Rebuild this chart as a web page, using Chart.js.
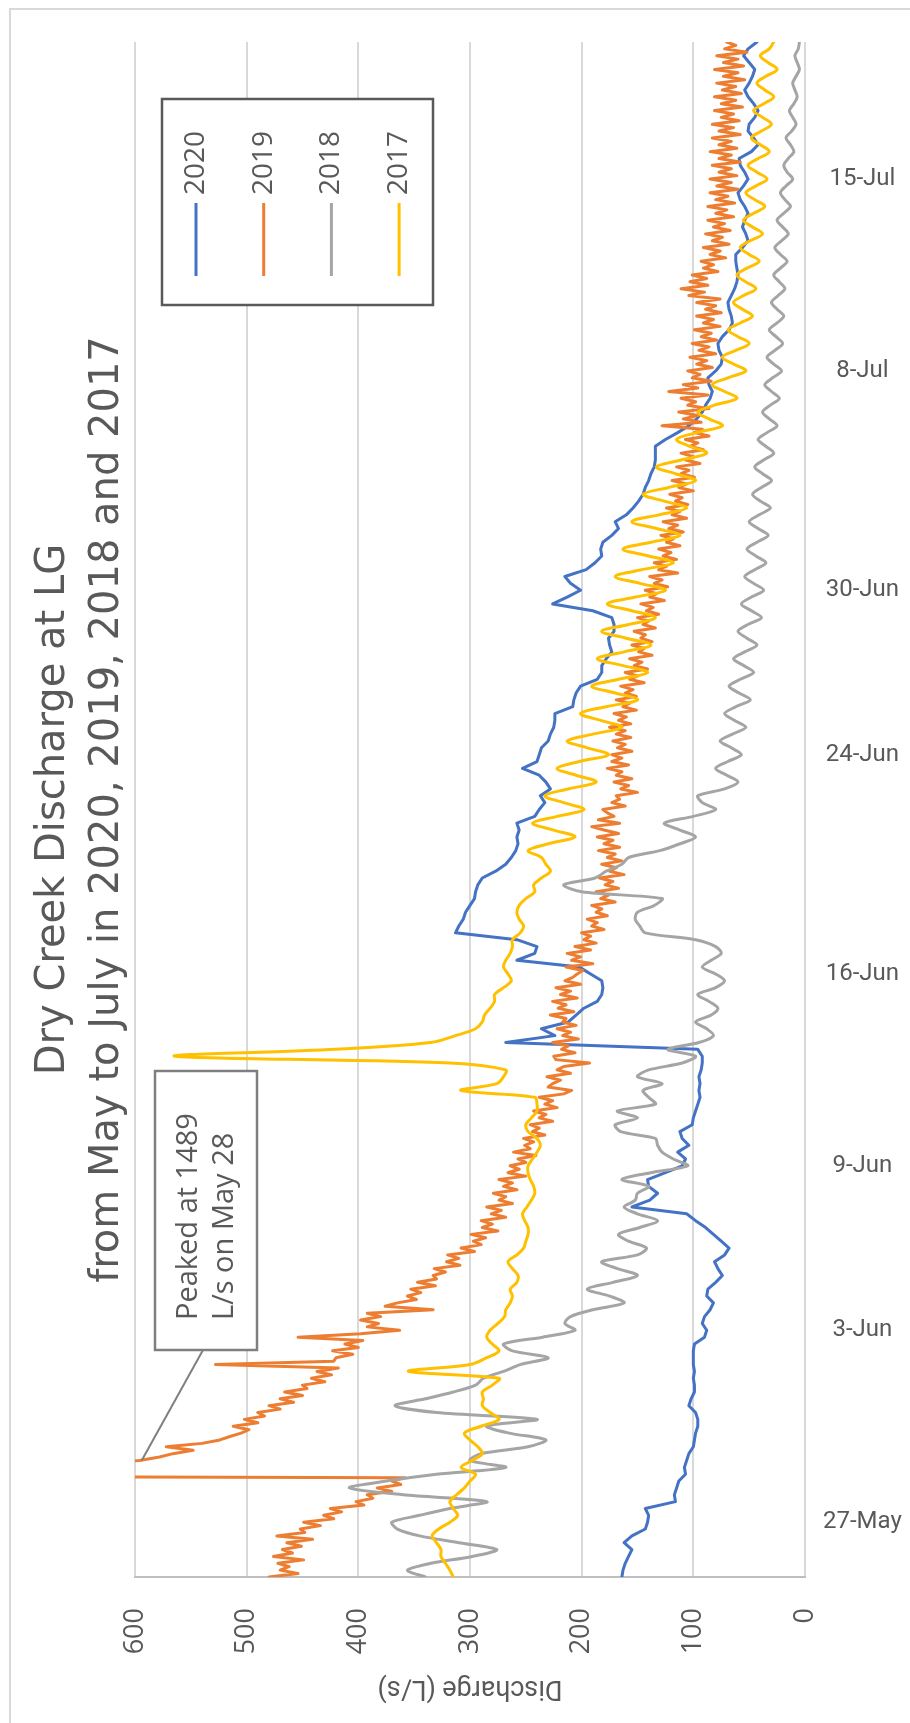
<!DOCTYPE html>
<html>
<head>
<meta charset="utf-8">
<script src="https://cdn.jsdelivr.net/npm/chart.js@4.4.1/dist/chart.umd.min.js"></script>
<style>
  html, body { margin: 0; padding: 0; background: #ffffff; }
  canvas { display: block; }
</style>
</head>
<body>
<canvas id="discharge" width="910" height="1723"></canvas>
<script>
// ---- Chart text ----
const titleLines = ['Dry Creek Discharge at LG', 'from May to July in 2020, 2019, 2018 and 2017'];
const axisTitle = 'Discharge (L/s)';
const peakNote = ['Peaked at 1489', 'L/s on May 28'];

// ---- Series ----
const seriesNames = ['2020', '2019', '2018', '2017'];
const seriesColors = ['#4472C4', '#ED7D31', '#A5A5A5', '#FFC000'];

// Reading interval in days for each series; day 0 = 25 May, day 56 = 20 July
const seriesStep = [0.25, 0.125, 0.25, 0.25];

// Date axis ticks (days since 25 May) and their labels
const tickDays = [2, 9, 15, 22, 30, 36, 44, 51];
const tickLabels = ['27-May', '3-Jun', '9-Jun', '16-Jun', '24-Jun', '30-Jun', '8-Jul', '15-Jul'];

// Discharge, L/s — 6-hourly
const flow2020 = [
  164, 163, 161, 158, 155, 162, 155, 143,
  141, 140, 143, 116, 117, 115, 113, 107,
  108, 106, 104, 100, 99, 98, 96, 96,
  98, 104, 102, 99, 99, 100, 99, 100,
  100, 100, 99, 90, 88, 92, 90, 85,
  82, 88, 87, 80, 74, 78, 81, 72,
  68, 75, 82, 89, 98, 106, 155, 139,
  132, 140, 141, 125, 110, 107, 114, 104,
  110, 112, 101, 100, 98, 96, 94, 95,
  94, 95, 93, 92, 92, 96, 268, 224,
  236, 212, 205, 198, 186, 182, 181, 182,
  192, 202, 258, 242, 240, 258, 313, 310,
  306, 304, 300, 296, 295, 293, 289, 277,
  268, 263, 259, 257, 258, 256, 258, 242,
  238, 233, 237, 228, 232, 238, 253, 240,
  238, 236, 230, 228, 225, 224, 224, 208,
  207, 205, 201, 186, 182, 182, 178, 173,
  175, 176, 171, 171, 173, 190, 226, 213,
  201, 210, 215, 196, 188, 182, 183, 181,
  173, 167, 170, 160, 154, 149, 145, 143,
  140, 138, 135, 134, 134, 134, 125, 114,
  104, 97, 92, 89, 85, 83, 86, 87,
  80, 75, 74, 77, 78, 74, 68, 65,
  66, 68, 69, 66, 63, 61, 60, 61,
  62, 62, 56, 51, 53, 56, 54, 51,
  54, 58, 60, 55, 51, 54, 58, 59,
  48, 42, 46, 51, 50, 45, 42, 46,
  51, 54, 50, 47, 45, 50, 55, 51,
  43
];

// Discharge, L/s — 3-hourly (one row per day)
const flow2019 = [
  480, 454, 470, 462, 472, 449, 476, 459,
  468, 451, 464, 441, 473, 448, 452, 434,
  449, 422, 431, 415, 425, 395, 402, 387,
  392, 370, 383, 362, 370, 358, 1489, 900,
  700, 640, 596, 578, 566, 548, 572, 540,
  524, 515, 505, 498, 512, 490, 502, 484,
  490, 470, 480, 458, 470, 450, 466, 446,
  450, 430, 442, 424, 437, 418, 528, 422,
  420, 405, 423, 400, 412, 396, 454, 398,
  363, 392, 382, 398, 380, 392, 333, 376,
  365, 348, 356, 344, 353, 331, 347, 330,
  333, 322, 332, 309, 321, 310, 320, 296,
  308, 290, 297, 286, 299, 275, 289, 280,
  290, 268, 281, 272, 285, 262, 274, 268,
  279, 258, 270, 262, 274, 250, 266, 256,
  264, 250, 257, 241, 261, 246, 251, 243,
  252, 233, 244, 238, 246, 226, 238, 232,
  243, 222, 233, 226, 238, 216, 209, 230,
  226, 219, 231, 210, 222, 216, 193, 223,
  225, 206, 218, 212, 226, 203, 217, 210,
  222, 205, 217, 214, 228, 207, 221, 214,
  226, 204, 219, 210, 223, 201, 215, 208,
  204, 199, 214, 190, 209, 201, 213, 192,
  206, 187, 198, 192, 200, 180, 191, 186,
  195, 177, 187, 182, 191, 170, 183, 176,
  187, 167, 179, 172, 184, 162, 175, 169,
  182, 164, 177, 170, 185, 166, 180, 172,
  186, 167, 180, 191, 166, 185, 171, 177,
  181, 161, 173, 166, 169, 150, 165, 158,
  171, 155, 169, 164, 177, 158, 173, 164,
  173, 155, 168, 161, 172, 156, 169, 161,
  175, 156, 167, 160, 171, 151, 163, 157,
  169, 151, 161, 154, 165, 144, 157, 150,
  161, 141, 153, 146, 157, 137, 149, 144,
  155, 137, 147, 143, 153, 134, 145, 140,
  150, 131, 142, 136, 147, 126, 139, 133,
  143, 123, 135, 128, 139, 114, 131, 124,
  135, 115, 127, 120, 131, 112, 124, 118,
  129, 109, 122, 114, 127, 106, 119, 112,
  124, 105, 116, 110, 121, 100, 113, 106,
  119, 99, 111, 104, 115, 94, 107, 100,
  111, 91, 103, 96, 107, 86, 99, 92,
  128, 93, 109, 96, 113, 86, 105, 98,
  111, 87, 122, 96, 109, 84, 101, 94,
  105, 83, 97, 88, 103, 80, 95, 86,
  101, 79, 93, 84, 99, 76, 91, 82,
  97, 75, 89, 80, 97, 76, 104, 90,
  111, 87, 103, 88, 101, 78, 91, 82,
  93, 71, 85, 76, 91, 68, 83, 74,
  89, 67, 82, 72, 87, 64, 80, 70,
  87, 63, 80, 69, 85, 60, 79, 66,
  85, 61, 77, 66, 83, 58, 77, 66,
  85, 61, 77, 66, 83, 58, 77, 64,
  83, 59, 75, 64, 81, 56, 75, 62,
  81, 57, 74, 62, 79, 54, 73, 60,
  81, 55, 73, 60, 79, 52, 72, 62,
  70
];

// Discharge, L/s — 6-hourly
const flow2018 = [
  340, 356, 335, 298, 276, 310, 345, 365,
  370, 345, 318, 285, 360, 408, 375, 330,
  268, 300, 290, 248, 232, 265, 285, 240,
  330, 367, 340, 315, 295, 288, 270, 255,
  230, 262, 270, 235, 206, 215, 210, 190,
  162, 175, 195, 172, 150, 168, 182, 150,
  142, 158, 167, 148, 132, 150, 162, 152,
  150, 140, 164, 138, 105, 118, 128, 132,
  134, 165, 170, 150, 168, 134, 140, 145,
  128, 150, 140, 110, 98, 123, 95, 82,
  88, 98, 84, 78, 86, 96, 80, 72,
  80, 92, 84, 75, 80, 98, 143, 148,
  152, 150, 135, 128, 200, 216, 188, 178,
  164, 158, 130, 112, 98, 112, 126, 100,
  80, 92, 96, 72, 60, 70, 80, 69,
  57, 66, 76, 65, 53, 63, 72, 62,
  49, 59, 68, 58, 46, 55, 64, 54,
  43, 52, 60, 51, 39, 48, 57, 48,
  37, 46, 54, 45, 35, 44, 52, 43,
  33, 42, 50, 41, 31, 40, 47, 39,
  30, 38, 45, 37, 28, 35, 42, 34,
  25, 32, 38, 31, 23, 30, 36, 29,
  21, 28, 34, 27, 20, 26, 32, 25,
  19, 25, 30, 24, 18, 23, 28, 22,
  16, 22, 27, 21, 15, 20, 25, 19,
  13, 18, 22, 17, 11, 16, 19, 15,
  10, 13, 17, 12, 8, 11, 14, 10,
  7, 9, 11, 8, 5, 7, 9, 6,
  5
];

// Discharge, L/s — 6-hourly
const flow2017 = [
  315, 318, 322, 326, 326, 330, 334, 328,
  318, 311, 315, 318, 312, 305, 300, 295,
  308, 298, 289, 293, 300, 305, 290, 274,
  282, 289, 288, 289, 280, 274, 355, 300,
  285, 274, 280, 285, 282, 275, 269, 268,
  264, 262, 264, 258, 257, 262, 266, 258,
  252, 250, 248, 248, 251, 253, 249, 245,
  242, 243, 246, 248, 248, 244, 240, 237,
  240, 248, 250, 245, 240, 240, 242, 308,
  276, 270, 268, 318, 564, 420, 335, 313,
  295, 289, 287, 282, 278, 278, 270, 263,
  266, 270, 268, 264, 262, 262, 255, 252,
  256, 258, 256, 250, 242, 243, 236, 228,
  232, 236, 248, 230, 206, 225, 244, 222,
  198, 216, 233, 212, 187, 205, 222, 202,
  176, 195, 213, 190, 164, 183, 201, 178,
  150, 170, 191, 167, 141, 163, 186, 162,
  138, 160, 182, 158, 134, 155, 177, 152,
  125, 148, 170, 146, 118, 140, 163, 138,
  112, 133, 155, 131, 106, 126, 145, 122,
  98, 116, 133, 111, 88, 103, 115, 97,
  74, 86, 96, 81, 61, 72, 83, 69,
  53, 64, 74, 62, 50, 60, 69, 58,
  47, 56, 64, 55, 44, 53, 61, 52,
  41, 50, 58, 49, 38, 47, 55, 46,
  36, 45, 53, 44, 34, 43, 51, 42,
  32, 40, 48, 39, 30, 38, 46, 37,
  28, 36, 43, 35, 25, 33, 40, 32,
  28
];

const flows = [flow2020, flow2019, flow2018, flow2017];
const seriesTension = [0, 0, 0.3, 0.35];
const seriesOrder = [3, 2, 1, 0]; // later years drawn on top

// Where the note's leader line meets the 2019 recession (value, day)
const peakTarget = { value: 594, day: 4.25 };

const toPoints = (arr, step) => arr.map((v, i) => ({ x: v, y: i * step }));

// Chart frame, legend, axis title and the peak note
const decorations = {
  id: 'decorations',
  beforeDraw(chart) {
    const { ctx, width, height } = chart;
    ctx.save();
    ctx.fillStyle = '#ffffff';
    ctx.fillRect(0, 0, width, height);
    ctx.strokeStyle = '#d9d9d9';
    ctx.lineWidth = 2;
    ctx.beginPath();
    ctx.moveTo(10, height);
    ctx.lineTo(10, 9);
    ctx.lineTo(width, 9);
    ctx.stroke();
    ctx.restore();
  },
  afterDatasetsDraw(chart) {
    const { ctx, chartArea: a, scales } = chart;

    // value-axis title, turned upside down
    ctx.save();
    ctx.translate((a.left + a.right) / 2, a.bottom + 111);
    ctx.rotate(Math.PI);
    ctx.font = '27px Roboto';
    ctx.fillStyle = '#595959';
    ctx.textAlign = 'center';
    ctx.textBaseline = 'middle';
    ctx.fillText(axisTitle, 0, 0);
    ctx.restore();

    // legend box
    const lx = a.left + 27, ly = a.top + 57, lw = 271, lh = 206;
    ctx.save();
    ctx.fillStyle = '#ffffff';
    ctx.fillRect(lx, ly, lw, lh);
    ctx.strokeStyle = '#595959';
    ctx.lineWidth = 2.5;
    ctx.strokeRect(lx, ly, lw, lh);
    chart.data.datasets.forEach((ds, i) => {
      const cx = lx + 34 + i * 67.7;
      ctx.strokeStyle = ds.borderColor;
      ctx.lineWidth = 3;
      ctx.beginPath();
      ctx.moveTo(cx, ly + 177);
      ctx.lineTo(cx, ly + 104);
      ctx.stroke();
      ctx.save();
      ctx.translate(cx, ly + 96);
      ctx.rotate(-Math.PI / 2);
      ctx.font = '28px "Open Sans"';
      ctx.fillStyle = '#595959';
      ctx.textAlign = 'left';
      ctx.textBaseline = 'middle';
      ctx.fillText(ds.label, 0, 0);
      ctx.restore();
    });
    ctx.restore();

    // peak note with leader line
    const bx = a.left + 20, by = a.top + 1029, bw = 102, bh = 279;
    ctx.save();
    ctx.strokeStyle = '#7f7f7f';
    ctx.lineWidth = 2;
    ctx.beginPath();
    ctx.moveTo(bx + 48, by + bh);
    ctx.lineTo(scales.x.getPixelForValue(peakTarget.value), scales.y.getPixelForValue(peakTarget.day));
    ctx.stroke();
    ctx.fillStyle = '#ffffff';
    ctx.fillRect(bx, by, bw, bh);
    ctx.lineWidth = 2.5;
    ctx.strokeRect(bx, by, bw, bh);
    ctx.translate(bx + 42, by + bh - 30);
    ctx.rotate(-Math.PI / 2);
    ctx.font = '29px "Open Sans"';
    ctx.fillStyle = '#595959';
    ctx.textAlign = 'left';
    ctx.textBaseline = 'alphabetic';
    ctx.fillText(peakNote[0], 0, 0);
    ctx.fillText(peakNote[1], 0, 36);
    ctx.restore();
  }
};

new Chart(document.getElementById('discharge').getContext('2d'), {
  type: 'scatter',
  data: {
    datasets: seriesNames.map((name, i) => ({
      label: name,
      data: toPoints(flows[i], seriesStep[i]),
      showLine: true,
      borderColor: seriesColors[i],
      backgroundColor: seriesColors[i],
      borderWidth: 3,
      tension: seriesTension[i],
      pointRadius: 0,
      pointHoverRadius: 0,
      fill: false,
      order: seriesOrder[i]
    }))
  },
  options: {
    responsive: false,
    animation: false,
    devicePixelRatio: 1,
    events: [],
    elements: { line: { borderJoinStyle: 'round', borderCapStyle: 'round' } },
    layout: { padding: { top: 42, left: 0, right: 0, bottom: 0 } },
    plugins: {
      legend: { display: false },
      tooltip: { enabled: false },
      title: {
        display: true,
        position: 'left',
        fullSize: false,
        align: 'center',
        text: titleLines,
        color: '#595959',
        font: { family: '"DejaVu Sans"', size: 40, weight: 'normal', lineHeight: 1.35 },
        padding: { top: 27, bottom: 0 }
      }
    },
    scales: {
      x: {
        type: 'linear',
        position: 'bottom',
        min: 0,
        max: 600,
        reverse: true,
        ticks: {
          stepSize: 100,
          minRotation: 90,
          maxRotation: 90,
          padding: 31,
          color: '#595959',
          font: { family: '"Open Sans"', size: 27 }
        },
        grid: { color: '#d9d9d9', lineWidth: 2, drawTicks: false },
        border: { display: true, color: '#bfbfbf', width: 2 },
        afterFit(scale) { scale.height = 146; }
      },
      y: {
        type: 'linear',
        position: 'right',
        min: 0,
        max: 56,
        afterBuildTicks(scale) { scale.ticks = tickDays.map(v => ({ value: v })); },
        ticks: {
          padding: 18,
          crossAlign: 'center',
          autoSkip: false,
          color: '#595959',
          font: { family: 'Roboto', size: 24 },
          callback: v => tickLabels[tickDays.indexOf(v)]
        },
        grid: { display: false, drawTicks: false },
        border: { display: false },
        afterFit(scale) { scale.width = 105; }
      }
    }
  },
  plugins: [decorations]
});
</script>
</body>
</html>
